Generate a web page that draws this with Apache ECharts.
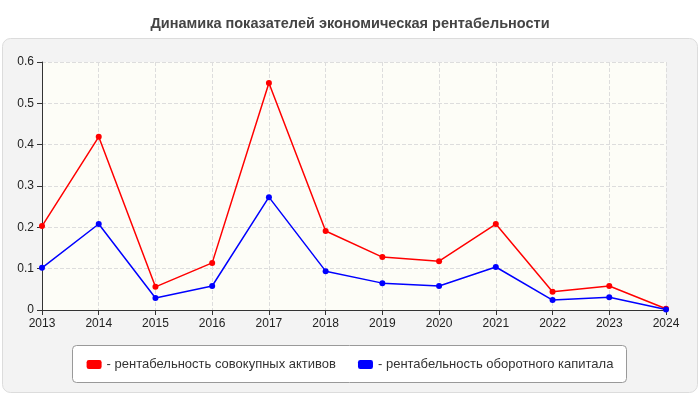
<!DOCTYPE html>
<html><head><meta charset="utf-8">
<script src="https://cdn.jsdelivr.net/npm/echarts@6/dist/echarts.min.js"></script>
<style>html,body{margin:0;padding:0;background:#fff}#chart{width:700px;height:400px}</style>
</head><body><div id="chart"></div>
<script>
var years = ['2013','2014','2015','2016','2017','2018','2019','2020','2021','2022','2023','2024'];
var assets = [0.203,0.419,0.056,0.114,0.549,0.191,0.128,0.118,0.208,0.044,0.058,0.003];
var working = [0.102,0.208,0.029,0.058,0.273,0.094,0.065,0.058,0.104,0.024,0.031,0.001];
var yTicks = [0, 0.1, 0.2, 0.3, 0.4, 0.5, 0.6];

var chart = echarts.init(document.getElementById('chart'));
chart.setOption({
	animation: false,
	textStyle: {fontFamily: 'Arial, Liberation Sans, sans-serif'},
	title: {text: 'Динамика показателей экономическая рентабельности', left: 'center', top: 11,
		textStyle: {fontSize: 14.5, fontWeight: 'bold', color: '#444'}},
	graphic: [
		{type: 'rect', left: 2, top: 38, z: -10, shape: {width: 695, height: 354, r: 8},
			style: {fill: '#f3f3f3', stroke: '#dcdcdc', lineWidth: 1}},
		{type: 'rect', left: 72, top: 345, z: -5, shape: {width: 554, height: 37, r: 4},
			style: {fill: '#fff', stroke: '#999', lineWidth: 1}}
	],
	grid: {left: 42, right: 34, top: 62, bottom: 90, show: true, backgroundColor: '#fdfdf7', borderWidth: 0},
	legend: {
		top: 353, left: 'center', itemGap: 22, itemWidth: 15, itemHeight: 9,
		icon: 'roundRect', textStyle: {fontSize: 13, color: '#333'},
		formatter: function(n) { return '- ' + n; },
		data: ['рентабельность совокупных активов', 'рентабельность оборотного капитала']
	},
	xAxis: {
		type: 'category', data: years, boundaryGap: false,
		axisLine: {lineStyle: {color: '#333'}},
		axisTick: {show: true, lineStyle: {color: '#333'}},
		axisLabel: {color: '#222', fontSize: 12},
		splitLine: {show: true, lineStyle: {color: '#ddd', type: 'dashed'}}
	},
	yAxis: {
		type: 'value', min: yTicks[0], max: yTicks[yTicks.length - 1], interval: 0.1,
		axisLine: {show: true, lineStyle: {color: '#333'}},
		axisTick: {show: true},
		axisLabel: {color: '#222', fontSize: 12, formatter: function(v) { return +v.toFixed(1); }},
		splitLine: {lineStyle: {color: '#ddd', type: 'dashed'}}
	},
	series: [
		{name: 'рентабельность совокупных активов', type: 'line', data: assets,
			symbol: 'circle', symbolSize: 6, itemStyle: {color: '#ff0000'}, lineStyle: {width: 1.5, color: '#ff0000'}},
		{name: 'рентабельность оборотного капитала', type: 'line', data: working,
			symbol: 'circle', symbolSize: 6, itemStyle: {color: '#0000ff'}, lineStyle: {width: 1.5, color: '#0000ff'}}
	]
});
</script>
</body></html>
